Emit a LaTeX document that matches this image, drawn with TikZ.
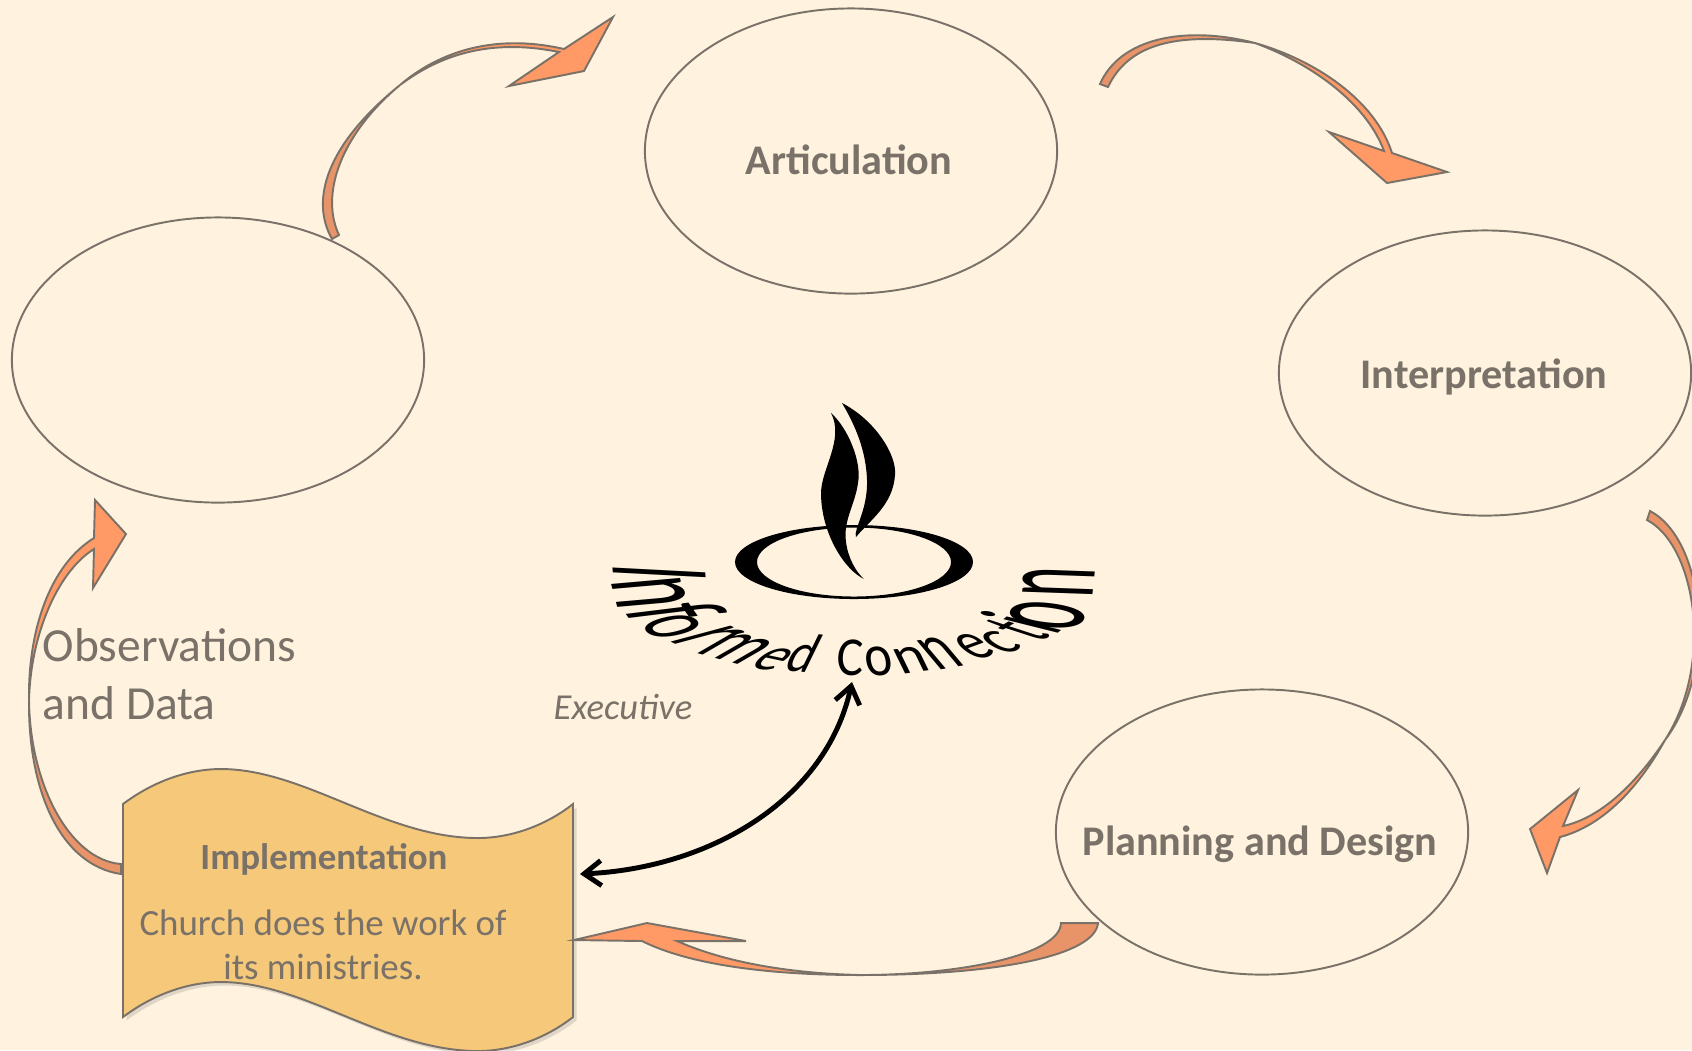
\documentclass[tikz,border=0pt]{standalone}
\usepackage{fontspec}
\setmainfont{Carlito}
\usepackage{xcolor}
\usetikzlibrary{positioning,calc,shapes.geometric,shadows,arrows.meta}
\definecolor{paper}{HTML}{FFF3DF}
\definecolor{inkgrey}{HTML}{7A7268}
\definecolor{arrowhead}{HTML}{FF9966}
\definecolor{arrowtail}{HTML}{E89468}
\definecolor{wavefill}{HTML}{F5C87A}
\tikzset{
    stage/.style={draw=inkgrey, line width=0.55pt},
    stagename/.style={text=inkgrey, font=\fontsize{12}{14}\selectfont\bfseries},
    bodytext/.style={text=inkgrey, font=\fontsize{10.5}{12.5}\selectfont},
    headpart/.style={draw=inkgrey, line width=0.55pt, fill=arrowhead, line join=miter},
    tailpart/.style={draw=inkgrey, line width=0.55pt, fill=arrowtail, line join=miter},
    archletter/.style={anchor=base, inner sep=0pt, font=\fontsize{14.2}{16}\selectfont}
}

\begin{document}
\begin{tikzpicture}[x=0.01cm, y=-0.01cm]
    \useasboundingbox (0,0) rectangle (1692,1050);
    \clip (0,0) rectangle (1692,1050);
    \fill[paper] (0,0) rectangle (1692,1050);

    % Stages
    \node[stage, ellipse, minimum width=4.12cm, minimum height=2.85cm] (observe) at (218,360) {};
    \node[stage, ellipse, minimum width=4.12cm, minimum height=2.85cm] (articulate) at (851,151) {};
    \node[stage, ellipse, minimum width=4.12cm, minimum height=2.85cm] (interpret) at (1485,373) {};
    \node[stage, ellipse, minimum width=4.12cm, minimum height=2.85cm] (plan) at (1262,832) {};

    \node[stagename] (articulatetext) at (849,160) {Articulation};
    \node[stagename] (interprettext) at (1484,377) {Interpretation};
    \node[stagename] (plantext) at (1260,844) {Planning and Design};

    % Implementation banner
    \draw[stage, fill=wavefill, drop shadow={shadow xshift=1pt, shadow yshift=-1pt, opacity=0.25}]
        (123,804) .. controls (155,780) and (190,769) .. (221,769)
        .. controls (305,769) and (385,838) .. (478,838)
        .. controls (510,838) and (545,826) .. (573,804)
        -- (573,1017) .. controls (545,1039) and (510,1051) .. (478,1051)
        .. controls (385,1051) and (305,982) .. (221,982)
        .. controls (190,982) and (155,993) .. (123,1017) -- cycle;
    \node[minimum width=4.5cm, minimum height=2cm] (banner) at (348,910) {};
    \node[stagename, font=\fontsize{10.5}{12}\selectfont\bfseries] (bannertitle) at (324,859) {Implementation};
    \node[bodytext, align=center] (bannertext) at (323,945) {Church does the work of\\its ministries.};

    % Side labels
    \node[text=inkgrey, font=\fontsize{13.5}{16.4}\selectfont, align=left, anchor=west, inner sep=0pt] (data) at (42,674) {Observations\\and Data};
    \node[text=inkgrey, font=\fontsize{10.4}{12}\selectfont\itshape] (executive) at (623,707) {Executive};

    % Flame and ring
    \fill[black, even odd rule] (854,562) ellipse [x radius=119, y radius=37] (854,562) ellipse [x radius=97, y radius=34.5];
    \fill[black] (831,413) .. controls (848,428) and (862,462) .. (858,483)
        .. controls (855,505) and (843,520) .. (846,542)
        .. controls (848,558) and (856,572) .. (864,579)
        .. controls (845,570) and (822,535) .. (821,495)
        .. controls (820,470) and (845,440) .. (831,413) -- cycle;
    \fill[black] (842,403) .. controls (875,420) and (897,455) .. (895,475)
        .. controls (893,505) and (870,520) .. (856,537)
        .. controls (853,530) and (868,510) .. (867,480)
        .. controls (866,450) and (855,425) .. (842,403) -- cycle;

    % Arched title, letter by letter: base point, baseline angle, stem angle, scales
    \foreach \ch/\px/\py/\ang/\lean/\sx/\sy [count=\k] in {
        I/613/570/-85/-3/1.1/2.9, n/615/596/-75/5/1.2/2.9, f/629/618/-55/7/1.15/2.8,
        o/649/633/-40/15/1.1/2.05, r/677/645/-25/15/1.2/2.6, m/718/659/-15/30/1.25/1.8,
        e/760/669/-12/38/1.05/1.35, d/796/672/-5/64/1/1.2,
        C/850/675/0/88/1/1.1, o/881/676/4/100/1.05/1.2, n/917/672/8/116/1.2/1.12,
        n/952/668/10/130/1.15/1.58, e/987/657/20/140/1/1.4, c/1015/651/22/148/1.05/1.4,
        t/1046/639/30/162/0.9/1.9, i/1060/632/40/166/1/2.35, o/1083/620/60/172/1.15/3,
        n/1094/583/84/178/1.15/2.95} {
        \pgfmathsetmacro{\ma}{\sx*cos(\ang)}
        \pgfmathsetmacro{\mb}{\sx*sin(\ang)}
        \pgfmathsetmacro{\mc}{\sy*cos(\lean)}
        \pgfmathsetmacro{\md}{\sy*sin(\lean)}
        \node[archletter, cm={\ma,\mb,\mc,\md,(0,0)}] (title\k) at (\px,\py) {\ch};
    }

    % Link to the title
    \coordinate (bannerport) at (580,874);
    \coordinate (titleport) at (852,682);
    \draw[black, line width=1.4pt, {Straight Barb[length=1.7mm,width=2.5mm]}-{Straight Barb[length=1.7mm,width=2.5mm]}]
        (bannerport) .. controls (710,868) and (826,800) .. (titleport);

    % Observations to Articulation
    \coordinate (obsA) at (332,239);
    \coordinate (obsB) at (339,235);
    \coordinate (obsM) at (400,85);
    \path[tailpart] (obsA) .. controls (310,200) and (326,145) .. (obsM)
        .. controls (340,135) and (320,195) .. (obsB) -- cycle;
    \path[headpart] (obsM) .. controls (435,55) and (490,32) .. (564,49)
        -- (613,17) -- (584,71) -- (509,86) -- (559,52)
        .. controls (490,38) and (440,55) .. (obsM) -- cycle;

    % Articulation to Interpretation
    \coordinate (artA) at (1100,84);
    \coordinate (artB) at (1108,87);
    \coordinate (artM) at (1255,43);
    \path[tailpart] (artA) .. controls (1120,38) and (1185,25) .. (artM)
        .. controls (1185,33) and (1130,40) .. (artB) -- cycle;
    \path[headpart] (artM) .. controls (1315,60) and (1375,100) .. (1392,153)
        -- (1447,172) -- (1387,183) -- (1329,132) -- (1384,151)
        .. controls (1367,105) and (1315,65) .. (artM) -- cycle;

    % Interpretation to Planning
    \coordinate (intA) at (1650,511);
    \coordinate (intB) at (1647,520);
    \coordinate (intM) at (1665,740);
    \path[tailpart] (intA) .. controls (1705,540) and (1718,670) .. (intM)
        .. controls (1715,662) and (1695,545) .. (intB) -- cycle;
    \path[headpart] (intM) .. controls (1640,785) and (1605,825) .. (1560,837)
        -- (1547,873) -- (1530,829) -- (1578,790) -- (1563,826)
        .. controls (1600,818) and (1635,785) .. (intM) -- cycle;

    % Planning to Implementation
    \coordinate (planA) at (1098,923);
    \coordinate (planB) at (1061,923);
    \coordinate (planM) at (860,975);
    \path[tailpart] (planA) .. controls (1095,955) and (1000,975) .. (planM)
        .. controls (960,975) and (1060,955) .. (planB) -- cycle;
    \path[headpart] (planM) .. controls (770,975) and (690,965) .. (642,941)
        -- (574,940) -- (647,923) -- (746,941) -- (677,941)
        .. controls (720,960) and (780,973) .. (planM) -- cycle;

    % Implementation to Observations
    \coordinate (implA) at (121,874);
    \coordinate (implB) at (121,864);
    \coordinate (implM) at (29,700);
    \path[tailpart] (implA) .. controls (60,865) and (28,790) .. (implM)
        .. controls (30,785) and (70,860) .. (implB) -- cycle;
    \path[headpart] (implM) .. controls (28,630) and (50,565) .. (94,538)
        -- (95,500) -- (126,534) -- (93,588) -- (94,549)
        .. controls (60,570) and (31,630) .. (implM) -- cycle;
\end{tikzpicture}
\end{document}
